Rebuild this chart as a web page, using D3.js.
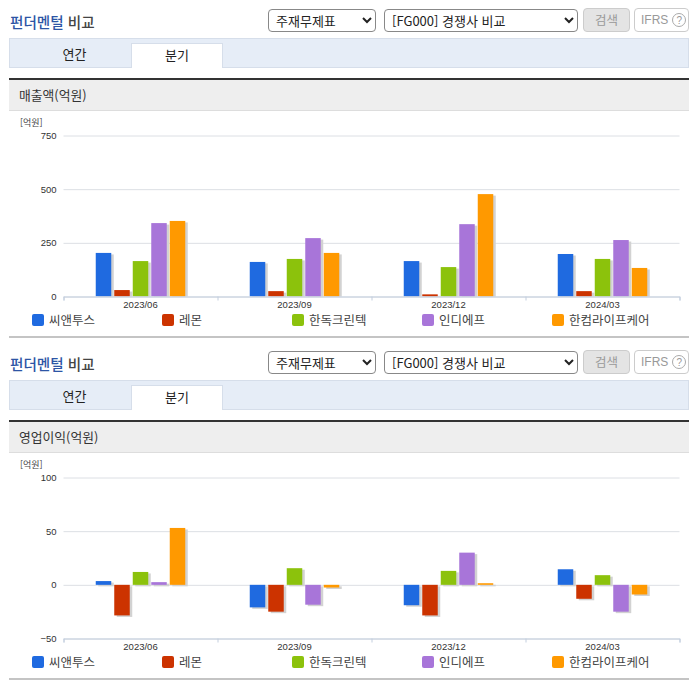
<!DOCTYPE html>
<html lang="ko">
<head>
<meta charset="utf-8">
<title>펀더멘털 비교</title>
<script src="https://cdn.jsdelivr.net/npm/d3@7"></script>
<style>
  html, body { margin: 0; padding: 0; background: #fff; overflow: hidden; }
  body { width: 696px; height: 684px; position: relative; font-family: "Noto Sans CJK KR", "Noto Sans", sans-serif; }
  .panel { position: absolute; left: 0; width: 696px; height: 342px; }
  .panel > * { position: absolute; box-sizing: border-box; }
  .title { left: 10px; top: 12px; font-size: 14.6px; line-height: 20px; font-weight: 500; color: #444; }
  .title b { color: #2d55a5; font-weight: 500; }
  select { top: 9px; height: 23px; font: 13px "Noto Sans CJK KR", sans-serif; color: #222; background: #fff; border: 1px solid #888; border-radius: 4px; padding-left: 3px; }
  .btn { top: 8px; height: 24px; border-radius: 4px; font-size: 12.5px; line-height: 22px; text-align: center; color: #999; }
  .search { left: 583px; width: 47px; background: #e4e4e4; border: 1px solid #ccc; }
  .ifrs { left: 634px; width: 55px; background: #fff; border: 1px solid #ccc; text-align: left; padding-left: 6px; font-size: 12px; font-family: "Liberation Sans", sans-serif; }
  .ifrs span { display: inline-block; width: 14px; height: 14px; line-height: 13px; border: 1px solid #aaa; border-radius: 50%; text-align: center; font-size: 10px; margin-left: 4px; box-sizing: border-box; }
  .tabbar { left: 9px; top: 38px; width: 680px; height: 30px; background: #e6edf7; border: 1px solid #d6deea; }
  .tab { top: 43px; height: 25px; font-size: 13px; line-height: 22px; text-align: center; color: #222; }
  .tab.off { left: 10px; width: 129px; }
  .tab.on { left: 131px; width: 92px; background: #fff; border: 1px solid #d6deea; border-bottom: 0; }
  .band { left: 9px; top: 78px; width: 680px; height: 33px; background: #eee; border-top: 2px solid #333; border-bottom: 1px solid #ddd; font-size: 12.8px; line-height: 30px; padding-left: 10px; color: #333; }
  .rule { left: 9px; top: 336px; width: 680px; height: 2px; background: #c4c4c4; }
  svg { left: 0; top: 0; }
  svg text { font-family: "Noto Sans CJK KR", "Noto Sans", sans-serif; }
  .axis text { font-family: "Liberation Sans", sans-serif; }
  .axis .domain { display: none; }
</style>
</head>
<body>
<script>
  const categories = ["2023/06", "2023/09", "2023/12", "2024/03"];
  const seriesNames = ["씨앤투스", "레몬", "한독크린텍", "인디에프", "한컴라이프케어"];
  const seriesColors = ["#1f6ae0", "#cc3300", "#8cc20c", "#a875d9", "#ff9900"];

  // values, one row per series
  const salesValues = [
    [203, 161, 165, 198],
    [30, 25, 10, 25],
    [165, 175, 137, 175],
    [342, 272, 337, 263],
    [352, 203, 477, 133],
  ];
  const profitValues = [
    [3.5, -21, -19, 14.5],
    [-28.5, -25, -28.5, -13],
    [12, 15.5, 13, 9],
    [2.5, -18.5, 30, -25],
    [53, -2.5, 1.5, -9],
  ];
  const salesTicks = [0, 250, 500, 750];
  const profitTicks = [-50, 0, 50, 100];

  const plot = { left: 63.5, right: 679.5, top: 135.5, bottom: 296.5 };
  const barWidth = 15.5;
  const barStep = 18.5;
  const legendX = [32, 162, 292, 422, 552];

  drawPanel(0, "매출액(억원)", salesValues, salesTicks, "sales");
  drawPanel(342, "영업이익(억원)", profitValues, profitTicks, "profit");

  function drawPanel(top, label, values, ticks, id) {
    const panel = d3.select("body").append("div").attr("class", "panel").style("top", top + "px");

    // page furniture around the chart
    panel.append("div").attr("class", "title").html("<b>펀더멘털</b> 비교");
    panel.append("select").style("left", "268px").style("width", "108px")
      .append("option").text("주재무제표");
    panel.append("select").style("left", "384px").style("width", "194px")
      .append("option").text("[FG000] 경쟁사 비교");
    panel.append("div").attr("class", "btn search").text("검색");
    panel.append("div").attr("class", "btn ifrs").html("IFRS<span>?</span>");
    panel.append("div").attr("class", "tabbar");
    panel.append("div").attr("class", "tab off").text("연간");
    panel.append("div").attr("class", "tab on").text("분기");
    panel.append("div").attr("class", "band").text(label);
    panel.append("div").attr("class", "rule");

    const svg = panel.append("svg").attr("width", 696).attr("height", 342);

    const x0 = d3.scaleBand().domain(categories).range([plot.left, plot.right]);
    const x1 = d3.scaleBand().domain(seriesNames).range([0, barStep * 5]);
    const y = d3.scaleLinear().domain(d3.extent(ticks)).range([plot.bottom, plot.top]);
    const groupPad = (x0.bandwidth() - x1.range()[1]) / 2 + 1.5;

    svg.append("text").attr("x", 20).attr("y", 126).attr("font-size", 9).attr("fill", "#444").text("[억원]");

    // gridlines + value labels
    const yAxis = svg.append("g").attr("class", "axis").attr("transform", `translate(${plot.left},0)`)
      .call(d3.axisLeft(y).tickValues(ticks).tickSize(-(plot.right - plot.left)).tickPadding(7));
    yAxis.selectAll("line").attr("stroke", "#dcdfe4");
    yAxis.selectAll("text").attr("font-size", 9.5).attr("fill", "#333");

    svg.append("clipPath").attr("id", "clip-" + id).append("rect")
      .attr("x", plot.left).attr("y", plot.top)
      .attr("width", plot.right - plot.left).attr("height", plot.bottom - plot.top);

    const rows = values.flatMap((row, s) => row.map((v, c) => ({ s, c, v })));
    const barX = (d) => x0(categories[d.c]) + groupPad + x1(seriesNames[d.s]);
    const barY = (d) => Math.min(y(d.v), y(0));
    const barH = (d) => Math.abs(y(d.v) - y(0));

    const bars = svg.append("g").attr("clip-path", `url(#clip-${id})`);
    // soft grey shadow behind each bar
    bars.selectAll("rect.shadow").data(rows).join("rect").attr("class", "shadow")
      .attr("x", (d) => barX(d) + 2.5).attr("y", (d) => barY(d) + 1.5)
      .attr("width", barWidth).attr("height", barH)
      .attr("fill", "#d2d2d2");
    bars.selectAll("rect.bar").data(rows).join("rect").attr("class", "bar")
      .attr("x", barX).attr("y", barY)
      .attr("width", barWidth).attr("height", barH)
      .attr("fill", (d) => seriesColors[d.s]);

    // category axis along the bottom of the plot, ticks on the band edges
    svg.append("g").attr("transform", `translate(0,${plot.bottom})`)
      .call(d3.axisBottom(d3.scaleLinear().domain([0, categories.length]).range([plot.left, plot.right]))
        .tickValues(d3.range(categories.length + 1)).tickSize(4).tickFormat(""))
      .call((g) => g.selectAll("path,line").attr("stroke", "#c3cede"));

    const xAxis = svg.append("g").attr("class", "axis").attr("transform", `translate(0,${plot.bottom})`)
      .call(d3.axisBottom(x0).tickSize(0).tickPadding(5));
    xAxis.selectAll("text").attr("font-size", 9.5).attr("fill", "#333");

    // legend
    const legend = svg.append("g").selectAll("g").data(seriesNames).join("g")
      .attr("transform", (d, i) => `translate(${legendX[i]},314)`);
    legend.append("rect").attr("width", 12).attr("height", 12).attr("rx", 2)
      .attr("fill", (d, i) => seriesColors[i]);
    legend.append("text").attr("x", 17).attr("y", 11).attr("font-size", 12.5).attr("fill", "#444").text((d) => d);
  }
</script>
</body>
</html>
